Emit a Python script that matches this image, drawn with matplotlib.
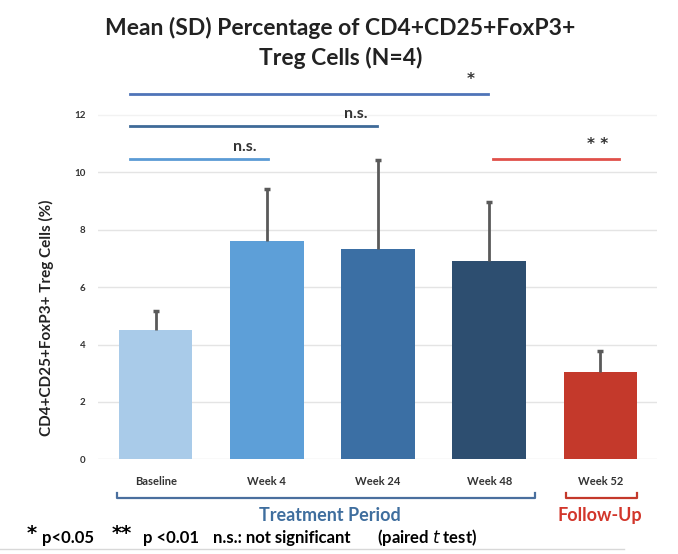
import numpy as np
import matplotlib
matplotlib.use("Agg")
import matplotlib.pyplot as plt

plt.rcParams['font.family'] = ['Lato', 'DejaVu Sans']

# data
labels = ["Baseline", "Week 4", "Week 24", "Week 48", "Week 52"]
means = [4.5, 7.62, 7.32, 6.9, 3.05]
sds = [0.68, 1.8, 3.1, 2.05, 0.72]
bar_colors = ["#a9cbe9", "#5d9fd8", "#3b6fa4", "#2d4e70", "#c4392b"]

# significance brackets
sig_x0 = [-0.23, -0.23, -0.23, 3.03]
sig_x1 = [2.99, 1.99, 1.01, 4.17]
sig_y = [12.72, 11.62, 10.45, 10.45]
sig_text = ["*", "n.s.", "n.s.", "* *"]
sig_tx = [2.83, 1.8, 0.8, 3.98]
sig_col = ["#4f74b8", "#3f6a98", "#5b9bd5", "#e0504a"]

fig = plt.figure(figsize=(6.78, 5.54), dpi=100)
ax = fig.add_axes([0.1445, 1 - 459.3 / 554, 0.8245, 13.3 * 28.7 / 554])

x = np.arange(len(labels))
tops = np.array(means) + np.array(sds)
ax.bar(x, means, width=0.66, color=bar_colors, zorder=2)
# error bars only upward, with a small cap at the top
ax.vlines(x, means, tops, color="#5a5a5a", lw=2, zorder=3)
ax.plot(x, tops, ls="none", marker="_", ms=5, mew=2.5, color="#5a5a5a", zorder=3)

ax.set_xlim(-0.52, 4.51)
ax.set_ylim(0, 13.3)
ax.set_yticks([0, 2, 4, 6, 8, 10, 12])
ax.set_xticks(x)
ax.set_xticklabels(labels, fontsize=8, fontweight="bold", color="#333333")
ax.tick_params(axis="x", length=0, pad=12)
ax.tick_params(axis="y", length=0, pad=9, labelsize=7)
for t in ax.get_yticklabels():
    t.set_fontweight("bold")
    t.set_color("#333333")
for s in ax.spines.values():
    s.set_visible(False)
for gy in [0, 2, 4, 6, 8, 10]:
    ax.axhline(gy, color="#e4e4e4", lw=1, zorder=1)
ax.axhline(12, color="#f2f2f2", lw=1, zorder=1)

for x0, x1, y, txt, c, tx in zip(sig_x0, sig_x1, sig_y, sig_text, sig_col, sig_tx):
    ax.plot([x0, x1], [y, y], color=c, lw=2, clip_on=False, zorder=4)
    if "*" in txt:
        ax.text(tx, y + 0.25, txt, ha="center", va="bottom", fontsize=11,
                fontweight="bold", color="#333333", family="DejaVu Sans")
    else:
        ax.text(tx, y + 0.18, txt, ha="center", va="bottom", fontsize=11.5,
                fontweight="bold", color="#333333")

# period brackets under the axis
ax.plot([-0.35, -0.35, 3.41, 3.41], [-1.18, -1.35, -1.35, -1.18],
        color="#4a6f9e", lw=1.6, clip_on=False)
ax.plot([3.69, 3.69, 4.33, 4.33], [-1.18, -1.35, -1.35, -1.18],
        color="#c4392b", lw=1.6, clip_on=False)
ax.text(1.57, -1.97, "Treatment Period", ha="center", va="center",
        fontsize=13, fontweight="bold", color="#3f6e9e", clip_on=False)
ax.text(4.0, -1.97, "Follow-Up", ha="center", va="center",
        fontsize=13, fontweight="bold", color="#d2362b", clip_on=False)

fig.text(0.502, 1 - 43 / 554, "Mean (SD) Percentage of CD4+CD25+FoxP3+\nTreg Cells (N=4)",
         ha="center", va="center", fontsize=16.5, fontweight="bold",
         color="#222222", linespacing=1.4)
fig.text(46 / 678, 1 - 318 / 554, "CD4+CD25+FoxP3+ Treg Cells (%)", rotation=90,
         ha="center", va="center", fontsize=11, fontweight="bold", color="#222222")

# footnote
fy = 1 - 538 / 554
fig.text(27 / 678, fy + 0.008, "*", fontsize=14, fontweight="bold", va="center",
         family="DejaVu Sans")
fig.text(42 / 678, fy, "p<0.05", fontsize=12, fontweight="bold", va="center")
fig.text(112 / 678, fy + 0.008, "**", fontsize=14, fontweight="bold", va="center",
         family="DejaVu Sans")
fig.text(143 / 678, fy, "p <0.01", fontsize=12, fontweight="bold", va="center")
fig.text(213 / 678, fy, "n.s.: not significant", fontsize=12, fontweight="bold", va="center")
fig.text(377 / 678, fy, "(paired $\\it{t}$ test)", fontsize=12, fontweight="bold", va="center")
fig.add_artist(plt.Line2D([0, 0.92], [1 - 549 / 554] * 2, color="#d8d8d8", lw=1))

fig.savefig("out.png", dpi=100)
